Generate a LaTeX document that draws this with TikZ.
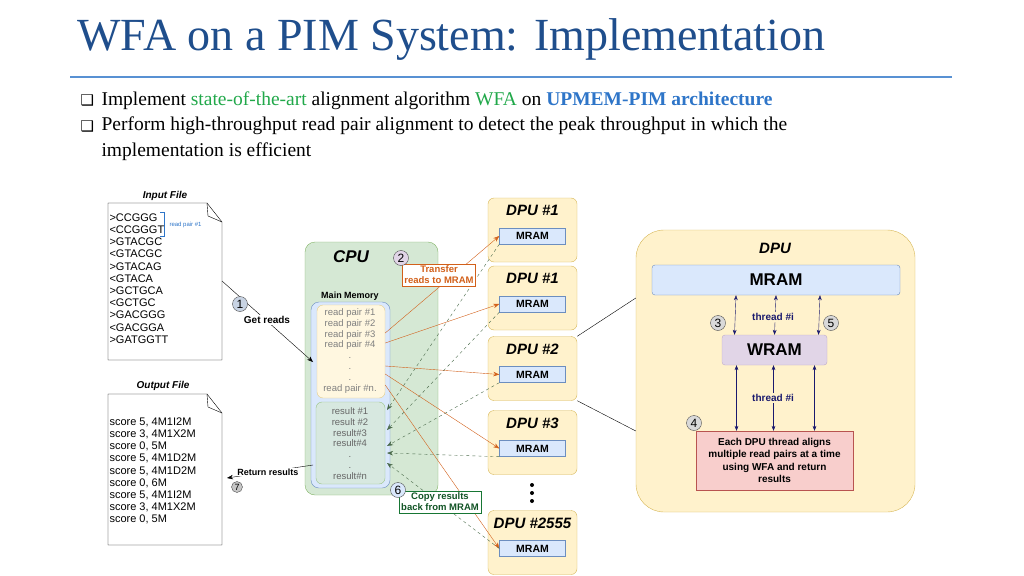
\documentclass[tikz,border=0pt]{standalone}
\usepackage{fontspec}
\setmainfont{Liberation Serif}
\setsansfont{Liberation Sans}
\newfontfamily\symfont{DejaVu Sans}
\usetikzlibrary{positioning,arrows.meta}
\definecolor{titleblue}{HTML}{1F4E8C}
\definecolor{linkblue}{HTML}{2E75C8}
\definecolor{wfagreen}{HTML}{21A84A}
\definecolor{cpufill}{HTML}{D5E8D4}
\definecolor{cpuline}{HTML}{82B366}
\definecolor{memfill}{HTML}{DAE8FC}
\definecolor{memline}{HTML}{6C8EBF}
\definecolor{dpufill}{HTML}{FFF2CC}
\definecolor{dpuline}{HTML}{D6B656}
\definecolor{wramfill}{HTML}{E1D5E7}
\definecolor{wramline}{HTML}{9673A6}
\definecolor{redfill}{HTML}{F8CECC}
\definecolor{redline}{HTML}{B85450}
\definecolor{xferline}{HTML}{D2601A}
\definecolor{copyline}{HTML}{4A6A4A}
\definecolor{navyarrow}{HTML}{1A1A6E}
\tikzset{
  dpubox/.style={draw=dpuline,fill=dpufill,rounded corners=6pt,minimum width=89pt,minimum height=64pt},
  mrambox/.style={draw=memline,fill=memfill,minimum width=66pt,minimum height=16pt,font=\sffamily\bfseries\fontsize{10.5}{10.5}\selectfont},
  dpulabel/.style={font=\sffamily\bfseries\itshape\fontsize{15}{15}\selectfont},
  stepnum/.style={draw=black!70,fill=gray!45,circle,inner sep=0pt,minimum size=15pt,font=\sffamily\fontsize{12}{12}\selectfont},
  xfer/.style={draw=xferline,-{Stealth[length=6pt]}},
  copyback/.style={draw=copyline,dashed,-{Stealth[length=6pt]}},
  thr/.style={draw=navyarrow,{Stealth[length=5pt]}-{Stealth[length=5pt]}},
  filetext/.style={font=\sffamily\fontsize{11}{12.2}\selectfont,align=left,anchor=north west},
  filelabel/.style={font=\sffamily\bfseries\itshape\fontsize{10}{10}\selectfont}
}
\begin{document}
\begin{tikzpicture}[x=1pt,y=-1pt]
\useasboundingbox (0,0) rectangle (1024,575);
% title and bullets
\node[anchor=west,text=titleblue,font=\fontsize{46}{46}\selectfont] (title) at (74,40) {WFA on a PIM System: Implementation};
\draw[draw=linkblue!80,line width=1.5pt] (70,77) -- (952,77);
\node[anchor=west,font=\symfont\fontsize{15}{15}\selectfont] (b1) at (77,100) {❑};
\node[anchor=west,font=\fontsize{19.5}{19.5}\selectfont] (t1) at (98,101) {Implement \textcolor{wfagreen}{state-of-the-art} alignment algorithm \textcolor{wfagreen}{WFA} on \textcolor{linkblue}{\textbf{UPMEM-PIM architecture}}};
\node[anchor=west,font=\symfont\fontsize{15}{15}\selectfont] (b2) at (77,126) {❑};
\node[anchor=north west,align=left,font=\fontsize{19.5}{26}\selectfont] (t2) at (98,113) {Perform high-throughput read pair alignment to detect the peak throughput in which the\\implementation is efficient};

% input and output files
\draw (108,203) -- (207,203) -- (222,222) -- (222,360) -- (108,360) -- cycle;
\draw (207,203) -- (208,216) -- (222,222);
\node[filelabel] (inlabel) at (165,196) {Input File};
\node[filetext] (intext) at (106,210) {>CCGGG\\<CCGGGT\\>GTACGC\\<GTACGC\\>GTACAG\\<GTACA\\>GCTGCA\\<GCTGC\\>GACGGG\\<GACGGA\\>GATGGTT};
\draw[linkblue] (160,212) -- (164,212) -- (164,236) -- (160,236);
\node[anchor=west,text=linkblue,font=\sffamily\fontsize{6}{6}\selectfont] (rp1) at (166,225) {read pair \#1};
\draw (108,394) -- (207,394) -- (222,413) -- (222,545) -- (108,545) -- cycle;
\draw (207,394) -- (208,407) -- (222,413);
\node[filelabel] (outlabel) at (163,386) {Output File};
\node[filetext] (outtext) at (106,414) {score 5, 4M1I2M\\score 3, 4M1X2M\\score 0, 5M\\score 5, 4M1D2M\\score 5, 4M1D2M\\score 0, 6M\\score 5, 4M1I2M\\score 3, 4M1X2M\\score 0, 5M};

% CPU
\node[draw=cpuline,fill=cpufill,rounded corners=10pt,minimum width=133pt,minimum height=253pt] (cpu) at (371.5,368.5) {};
\node[font=\sffamily\bfseries\itshape\fontsize{17}{17}\selectfont] (cpulabel) at (351,257) {CPU};
\node[font=\sffamily\bfseries\fontsize{9}{9}\selectfont] (mmlabel) at (350,296) {Main Memory};
\node[draw=memline,fill=memfill,rounded corners=8pt,minimum width=79pt,minimum height=186pt] (mm) at (350.5,395) {};
\node[draw=dpuline!70,fill=dpufill!60!white,rounded corners=6pt,minimum width=68pt,minimum height=93pt] (reads) at (351,351.5) {};
\node[text=gray,align=center,font=\sffamily\fontsize{9.5}{10.8}\selectfont,anchor=north] (readtext) at (350,305) {read pair \#1\\read pair \#2\\read pair \#3\\read pair \#4\\.\\.\\.\\read pair \#n.};
\node[draw=cpuline!80,fill=cpufill!70!memfill,rounded corners=6pt,minimum width=69pt,minimum height=82pt] (results) at (350.5,443) {};
\node[text=gray!80!black,align=center,font=\sffamily\fontsize{9.5}{10.8}\selectfont,anchor=north] (restext) at (350,404) {result \#1\\result \#2\\result\#3\\result\#4\\.\\.\\result\#n};

% DPUs
\foreach \name/\lab/\y in {d1/DPU \#1/230, d2/DPU \#1/298, d3/DPU \#2/368.5, d4/DPU \#3/442.5, d5/DPU \#2555/542.5}{
  \node[dpubox] (\name) at (532.5,\y) {};
  \node[dpulabel] at ([yshift=-13pt]\name.north) {\lab};
  \node[mrambox] (\name m) at ([yshift=-6pt]\name.center) {MRAM};
}
\foreach \y in {485,493,501}{
  \fill (532,\y) circle (2pt);
}

% transfers
\draw[xfer] (reads.east |- 0,333) -- (d1m.west);
\draw[xfer] (reads.east |- 0,343) -- (d2m.west);
\draw[xfer] (reads.east |- 0,366) -- (d3m.west);
\draw[xfer] (reads.east |- 0,374) -- (d4m.west);
\draw[xfer] (reads.east |- 0,385) -- (d5m.west);
\draw[copyback] (d1m.south west) -- (387,410);
\draw[copyback] (d2m.south west) -- (387,430);
\draw[copyback] (d3m.south west) -- (387,446);
\draw[copyback] (d4m.south west) -- (387,453);
\draw[copyback] (d5m.west) -- (387,463);

% step labels
\node[draw=xferline,fill=white,text=xferline,align=center,font=\sffamily\bfseries\fontsize{9.5}{11}\selectfont,inner sep=2pt] (xferlab) at (439,275) {Transfer\\reads to MRAM};
\node[stepnum,fill=wramfill] (s2) at (401,258) {2};
\node[draw=wfagreen!70!black,fill=white,text=wfagreen!50!black,align=center,font=\sffamily\bfseries\fontsize{9.5}{11}\selectfont,inner sep=2pt] (copylab) at (440,502) {Copy results\\back from MRAM};
\node[stepnum,fill=memfill] (s6) at (398,490) {6};
\coordinate (getin) at (313,362);
\draw[-{Stealth[length=6pt]}] (222,281) -- (getin);
\node[fill=white,font=\sffamily\bfseries\fontsize{10}{10}\selectfont,inner sep=1pt] (getlab) at (267,320) {Get reads};
\node[stepnum,fill=memfill!80!gray] (s1) at (240,304) {1};
\coordinate (retout) at (227,478);
\draw[-{Stealth[length=6pt]}] (313,465) -- (retout);
\node[fill=white,font=\sffamily\bfseries\fontsize{9}{9}\selectfont,inner sep=1pt] (retlab) at (268,472) {Return results};
\node[stepnum,minimum size=11pt,font=\sffamily\fontsize{9}{9}\selectfont] (s7) at (237,487) {7};

% DPU zoom
\node[draw=dpuline,fill=dpufill,rounded corners=28pt,minimum width=279pt,minimum height=282pt] (dpu) at (775.5,371) {};
\draw (d3.north east) -- (dpu.west |- 0,298);
\draw (d3.south east) -- (dpu.west |- 0,431);
\node[font=\sffamily\bfseries\itshape\fontsize{15}{15}\selectfont] (dpulab) at (775,248) {DPU};
\node[draw=memline,fill=memfill,rounded corners=3pt,minimum width=248pt,minimum height=30pt,font=\sffamily\bfseries\fontsize{17}{17}\selectfont] (mram) at (776,280) {MRAM};
\node[draw=wramline!60,fill=wramfill,rounded corners=3pt,minimum width=105pt,minimum height=30pt,font=\sffamily\bfseries\fontsize{17}{17}\selectfont] (wram) at (774.5,350) {WRAM};
\node[draw=redline,fill=redfill,minimum width=157pt,minimum height=59pt,align=center,font=\sffamily\bfseries\fontsize{10}{12.5}\selectfont] (align) at (774.5,460.5) {Each DPU thread aligns\\multiple read pairs at a time\\using WFA and return\\results};
\foreach \x in {-40,0,44}{
  \draw[thr] ([xshift=\x pt]mram.south) -- ([xshift=\x pt]wram.north);
}
\foreach \x in {-38,-1,40}{
  \draw[thr] ([xshift=\x pt]wram.south) -- ([xshift=\x pt]align.north);
}
\node[fill=dpufill,text=navyarrow,font=\sffamily\bfseries\fontsize{10}{10}\selectfont,inner sep=1pt] (thr1) at (773,317) {thread \#i};
\node[fill=dpufill,text=navyarrow,font=\sffamily\bfseries\fontsize{10}{10}\selectfont,inner sep=1pt] (thr2) at (773,398) {thread \#i};
\node[stepnum,fill=gray!30] (s3) at (718,323) {3};
\node[stepnum,fill=gray!30] (s5) at (831,323) {5};
\node[stepnum,fill=gray!30] (s4) at (694,423) {4};
\end{tikzpicture}
\end{document}
